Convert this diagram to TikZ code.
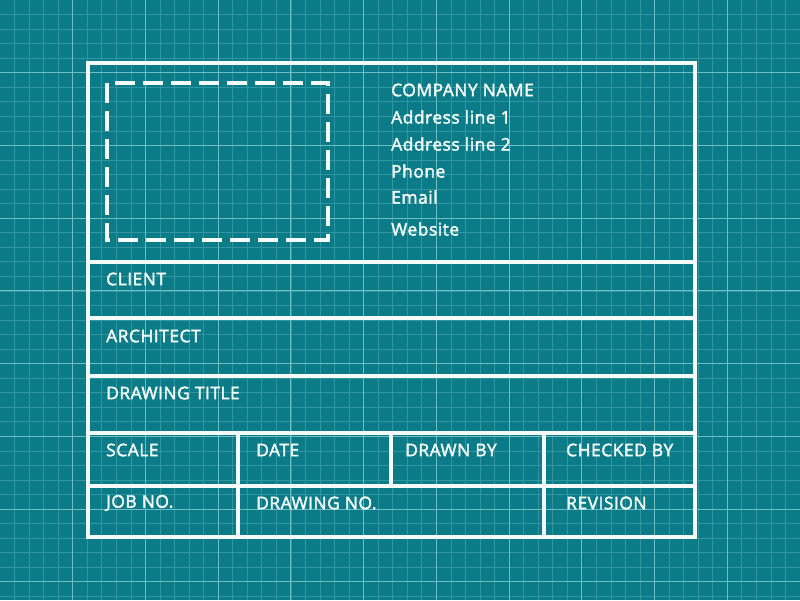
\documentclass[tikz,border=0pt]{standalone}
\usepackage{fontspec}
\setmainfont{Open Sans}[UprightFeatures={FakeBold=2.2},LetterSpace=3]
\definecolor{bg}{HTML}{0A7B87}
\definecolor{minorg}{HTML}{3096A1}
\definecolor{majorg}{HTML}{6CBFC5}
\definecolor{ink}{HTML}{F4FBFB}
\tikzset{
  frame/.style={draw=ink,line width=4.5pt},
  lbl/.style={anchor=west,text=ink,font=\fontsize{17.4}{19}\selectfont,inner sep=0pt},
}
\begin{document}
\begin{tikzpicture}[x=1pt,y=-1pt]
\useasboundingbox[fill=bg] (0,0) rectangle (800,600);
% grid
\foreach \i in {1,...,54}{\draw[minorg,line width=0.7pt] ({\i*14.54545},0) -- ({\i*14.54545},600);}
\foreach \i in {1,...,41}{\draw[minorg,line width=0.7pt] (0,{\i*14.54545}) -- (800,{\i*14.54545});}
\foreach \i in {1,...,10}{\draw[majorg,line width=1pt] ({\i*72.7273},0) -- ({\i*72.7273},600);}
\foreach \i in {1,...,8}{\draw[majorg,line width=1pt] (0,{\i*72.7273}) -- (800,{\i*72.7273});}
% frame
\draw[frame] (88,63) rectangle (695,537);
\foreach \y in {262,318,376,433,486}{\draw[frame] (88,\y) -- (695,\y);}
\draw[frame] (238,433) -- (238,537);
\draw[frame] (391,433) -- (391,486);
\draw[frame] (544,433) -- (544,537);
% logo placeholder
\draw[draw=ink,line width=4pt,dash pattern=on 20pt off 8pt] (107,83) rectangle (328,240);
% header text
\node[lbl] (cn) at (391,90) {COMPANY NAME};
\node[lbl] (a1) at (391,117) {Address line 1};
\node[lbl] (a2) at (391,144) {Address line 2};
\node[lbl] (ph) at (391,171) {Phone};
\node[lbl] (em) at (391,197) {Email};
\node[lbl] (web) at (391,229) {Website};
% rows
\node[lbl] (client) at (106,279) {CLIENT};
\node[lbl] (arch) at (106,336) {ARCHITECT};
\node[lbl] (title) at (106,393) {DRAWING TITLE};
\node[lbl] (scale) at (106,450) {SCALE};
\node[lbl] (date) at (256,450) {DATE};
\node[lbl] (drawn) at (405,450) {DRAWN BY};
\node[lbl] (checked) at (566,450) {CHECKED BY};
\node[lbl] (job) at (106,503) {JOB NO.};
\node[lbl] (dwgno) at (256,503) {DRAWING NO.};
\node[lbl] (rev) at (566,503) {REVISION};
\end{tikzpicture}
\end{document}
